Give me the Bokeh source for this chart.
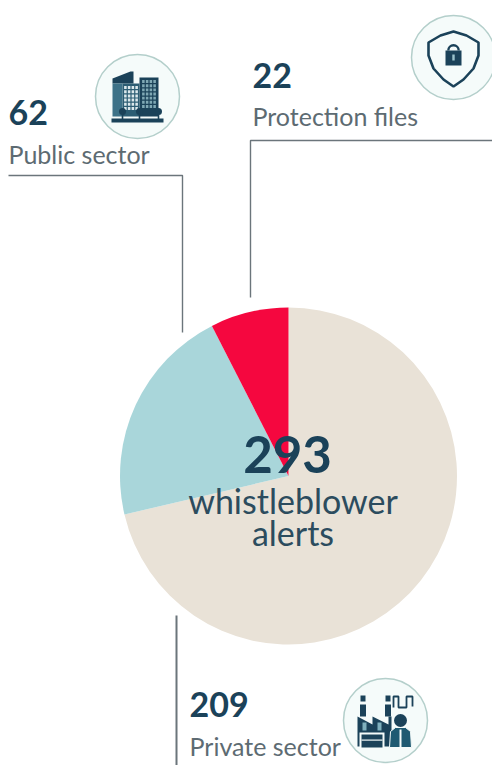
import math
from bokeh.plotting import figure
from bokeh.models import Range1d
from bokeh.core.properties import value
from bokeh.embed import file_html
from bokeh.resources import INLINE

# Whistleblower alerts by origin, clockwise from twelve o'clock
categories = ["Private sector", "Public sector", "Protection files"]
alerts = [209, 62, 22]
slice_colors = ["#e9e2d7", "#a9d6da", "#f5073f"]
total_label = "293"
centre_lines = ["whistleblower", "alerts"]

W, H = 492, 765
NAVY = "#1b4259"
GREY = "#5d6b72"
RULE = "#6b757b"
FONT = value("Lato")
BADGE = "#f5fbfa"

p = figure(width=W, height=H, output_backend="svg", toolbar_location=None,
           x_range=Range1d(0, W), y_range=Range1d(0, H), min_border=0)
p.axis.visible = False
p.grid.visible = False
p.outline_line_color = None
p.background_fill_color = "white"
p.border_fill_color = "white"


def Y(v):
    """Convert a distance from the top of the page to a y coordinate."""
    return H - v


def label(x, y, txt, size, color, bold=False, align="left"):
    # the svg backend sets alphabetic text low by about 0.39 of its size
    p.text([x], [Y(y - 0.39 * size)], text=[txt], text_font=FONT, text_font_size=f"{size}px",
           text_color=color, text_align=align, text_baseline="alphabetic",
           text_font_style="bold" if bold else "normal")


def rect(cx, cy, x0, y0, x1, y1, color):
    p.quad(left=[cx + x0], right=[cx + x1], top=[Y(cy + y0)], bottom=[Y(cy + y1)],
           fill_color=color, line_color=None)


def poly(cx, cy, pts, color, line=None, width=1):
    p.patch([cx + a for a, _ in pts], [Y(cy + b) for _, b in pts],
            fill_color=color, line_color=line, line_width=width)


def badge(cx, cy):
    p.scatter([cx], [Y(cy)], size=84, marker="circle", fill_color=BADGE,
              line_color="#b4cfcb", line_width=1.5)


def window_grid(cx, cy, x0, y0, x1, y1, cols, rows, color):
    dx, dy = (x1 - x0) / cols, (y1 - y0) / rows
    for c in range(cols):
        for r in range(rows):
            rect(cx, cy, x0 + c * dx + 0.6, y0 + r * dy + 0.6,
                 x0 + (c + 1) * dx - 0.6, y0 + (r + 1) * dy - 0.6, color)


def tree(cx, cy, x):
    p.scatter([cx + x], [Y(cy + 15)], size=7, marker="circle", fill_color=NAVY, line_color=None)
    rect(cx, cy, x - 0.8, 15, x + 0.8, 23, NAVY)


def building_icon(cx, cy):
    badge(cx, cy)
    poly(cx, cy, [(-25, -18), (-7, -25), (-4, -25), (-4, -13), (-25, -13)], NAVY)
    rect(cx, cy, -25, -13, -15, 20, "#3d7288")
    rect(cx, cy, 2, -19, 21, 20, NAVY)
    window_grid(cx, cy, 4, -17, 19, 12, 4, 7, "#7fa8b4")
    rect(cx, cy, -15, -13, 2, 20, "#2c5d73")
    window_grid(cx, cy, -14, -11, 1, 14, 4, 6, "#dce9ec")
    tree(cx, cy, -15)
    tree(cx, cy, 2)
    tree(cx, cy, 21)
    rect(cx, cy, -26, 22, 26, 26, NAVY)


def shield_icon(cx, cy):
    badge(cx, cy)
    outline = [(-25, -15), (-13, -22), (0, -26), (13, -22), (25, -15), (25, -2),
               (20, 11), (10, 22), (0, 29), (-10, 22), (-20, 11), (-25, -2)]
    poly(cx, cy, outline, BADGE, line=NAVY, width=2.6)
    p.arc([cx], [Y(cy - 7)], radius=5.2, start_angle=0, end_angle=math.pi,
          line_color=NAVY, line_width=2.4)
    rect(cx, cy, -8, -7, 8, 8, NAVY)
    rect(cx, cy, -1.2, -3, 1.2, 3, "#9cc3cc")


def factory_icon(cx, cy):
    badge(cx, cy)
    for x in (-25, 0):
        rect(cx, cy, x, -25, x + 5, -19, NAVY)
        rect(cx, cy, x - 0.5, -16, x + 5.5, -4, NAVY)
    poly(cx, cy, [(-28, -4), (-13, 4), (-13, -4), (3, 4), (3, -4), (6, -4),
                  (6, 26), (-28, 26)], NAVY)
    for x in (-23, -8):
        rect(cx, cy, x, 2, x + 4, 10, "#7fb0bd")
    rect(cx, cy, -26, 12, -1, 28, BADGE)
    rect(cx, cy, -24, 14, -3, 27, NAVY)
    rect(cx, cy, -24, 19, -3, 20.2, BADGE)
    # exhaust pipe curling away from the chimneys
    p.line([cx + d for d in (8, 8, 13, 13, 21, 21, 27, 27)],
           [Y(cy + d) for d in (-13, -24, -24, -13, -13, -24, -24, -14)],
           line_color=NAVY, line_width=1.8)
    # the employee standing in front of the plant
    p.scatter([cx + 15], [Y(cy + 0)], size=13, marker="circle", fill_color=NAVY, line_color=None)
    poly(cx, cy, [(4, 27), (5, 11), (10, 7), (20, 7), (25, 11), (26, 27)], "#1f5a72",
         line=BADGE, width=1)
    rect(cx, cy, 14, 9, 16, 27, BADGE)


# Pie slices, drawn clockwise from the top
CX, CY, R = 288, 475.5, 168.5
start = math.pi / 2
total = sum(alerts)
for n, color in zip(alerts, slice_colors):
    end = start - 2 * math.pi * n / total
    p.wedge([CX], [Y(CY)], radius=R, start_angle=end, end_angle=start,
            fill_color=color, line_color=None)
    start = end

# Leader lines from the callouts towards the pie
p.line([8, 182, 182], [Y(175), Y(175), Y(332)], line_color=RULE, line_width=1.4)
p.line([250, 250, 492], [Y(297), Y(140), Y(140)], line_color=RULE, line_width=1.4)
p.line([176, 176], [Y(615), Y(765)], line_color=RULE, line_width=2)

# Centre caption
label(287, 474, total_label, 51, NAVY, bold=True, align="center")
label(292.5, 513, centre_lines[0], 34, "#2c4c5e", align="center")
label(292.5, 545, centre_lines[1], 34, "#2c4c5e", align="center")

# Callouts
label(8, 125, str(alerts[1]), 34, NAVY, bold=True)
label(8, 163, categories[1], 25, GREY)
label(252, 88, str(alerts[2]), 34, NAVY, bold=True)
label(252, 125, categories[2], 25, GREY)
label(189, 717, str(alerts[0]), 34, NAVY, bold=True)
label(189, 755, categories[0], 25, GREY)

building_icon(137, 96)
shield_icon(453, 57)
factory_icon(385, 720)

open("out.html", "w").write(file_html(p, INLINE))
